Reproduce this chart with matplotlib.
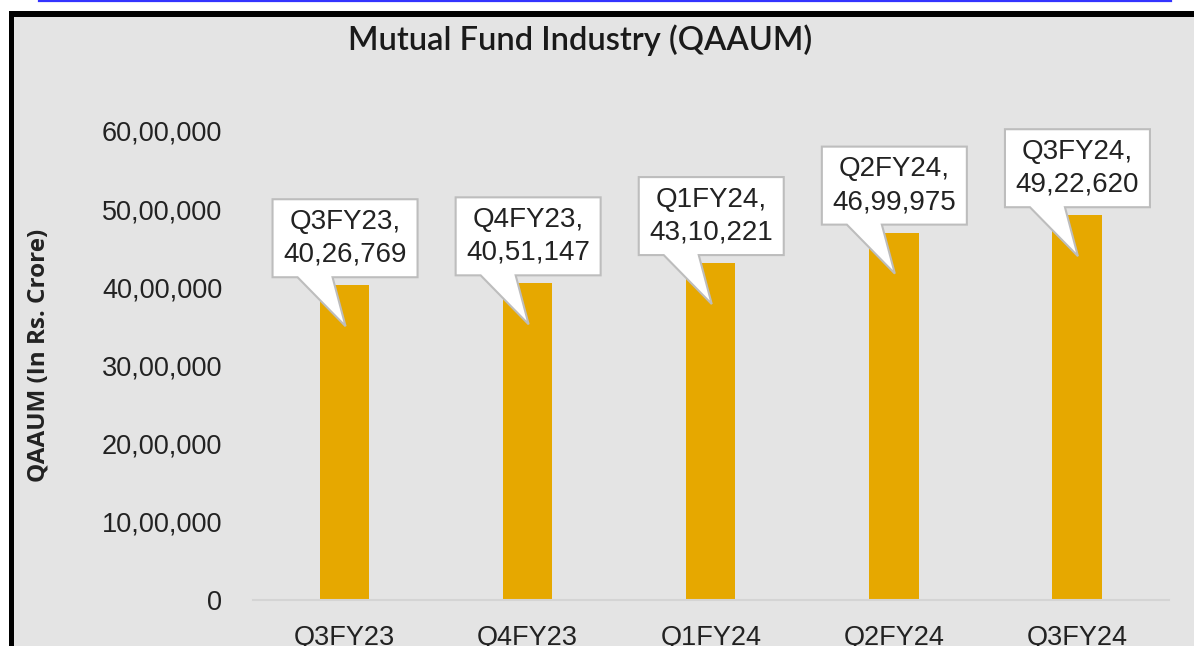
import matplotlib
matplotlib.use('Agg')
import matplotlib.pyplot as plt
import matplotlib.transforms as mtransforms
from matplotlib.patches import Polygon, Rectangle
from matplotlib.lines import Line2D

# data
quarters = ['Q3FY23', 'Q4FY23', 'Q1FY24', 'Q2FY24', 'Q3FY24']
qaaum = [4026769, 4051147, 4310221, 4699975, 4922620]
yticks = [0, 1000000, 2000000, 3000000, 4000000, 5000000, 6000000]

def indian(n):
    s = str(int(n))
    if len(s) <= 3:
        return s
    head, tail = s[:-3], s[-3:]
    parts = []
    while len(head) > 2:
        parts.insert(0, head[-2:])
        head = head[:-2]
    if head:
        parts.insert(0, head)
    return ','.join(parts) + ',' + tail

W, H = 1194, 646
fig = plt.figure(figsize=(W/100, H/100), dpi=100, facecolor='white')

# frame: blue link line, black border, grey chart area
fig.add_artist(Line2D([39/W, 1171/W], [1-1/H, 1-1/H], color='#3333ff', lw=1.6, zorder=-3))
fig.add_artist(Rectangle((9/W, 0), 1, 1-11/H, facecolor='black', edgecolor='none', zorder=-2))
fig.add_artist(Rectangle((14/W, 0), 1, 1-17/H, facecolor='#e4e4e4', edgecolor='none', zorder=-1))

ax = fig.add_axes([253/W, 1-600/H, (1168.5-253)/W, (600-131)/H])
ax.set_facecolor('none')
x = list(range(len(quarters)))
ax.bar(x, qaaum, width=0.27, color='#e6a800', zorder=2)
ax.set_xlim(-0.5, len(quarters)-0.5)
ax.set_ylim(0, 6000000)
ax.set_yticks(yticks)
ax.set_yticklabels([indian(v) for v in yticks], fontsize=19.5, family='Liberation Sans', color='#222222')
ax.set_xticks(x)
ax.set_xticklabels(quarters, fontsize=19.5, family='Liberation Sans', color='#222222')
ax.tick_params(axis='both', length=0)
ax.tick_params(axis='y', pad=22)
ax.tick_params(axis='x', pad=18)
for s in ['top', 'right', 'left']:
    ax.spines[s].set_visible(False)
ax.spines['bottom'].set_color('#d4d4d4')
ax.spines['bottom'].set_linewidth(1.5)

ax.set_ylabel('QAAUM (In Rs. Crore)', fontsize=17.5, family='Open Sans', fontweight='bold', color='#222222')
ax.yaxis.set_label_coords(-202/(1168.5-253), 0.522)

fig.text(580/W, 1-40/H, 'Mutual Fund Industry (QAAUM)', ha='center', va='center',
         fontsize=23.5, family='Lato', fontweight='semibold', color='#1a1a1a')

# callouts (offsets in inches from bar top)
shape = [(-0.72, 0.08), (-0.47, 0.08), (0.01, -0.41), (-0.12, 0.08), (0.73, 0.08),
         (0.73, 0.86), (-0.72, 0.86)]
for xi, q, v in zip(x, quarters, qaaum):
    tr = fig.dpi_scale_trans + mtransforms.ScaledTranslation(xi, v, ax.transData)
    ax.add_patch(Polygon(shape, closed=True, transform=tr, facecolor='white',
                         edgecolor='#bdbdbd', lw=1.5, clip_on=False, zorder=3))
    ax.text(0.005, 0.47, q + ',\n' + indian(v), transform=tr, ha='center', va='center',
            fontsize=20, family='Liberation Sans', color='#222222', linespacing=1.35,
            zorder=4, clip_on=False)

fig.savefig('out.png', dpi=100, facecolor=fig.get_facecolor())
